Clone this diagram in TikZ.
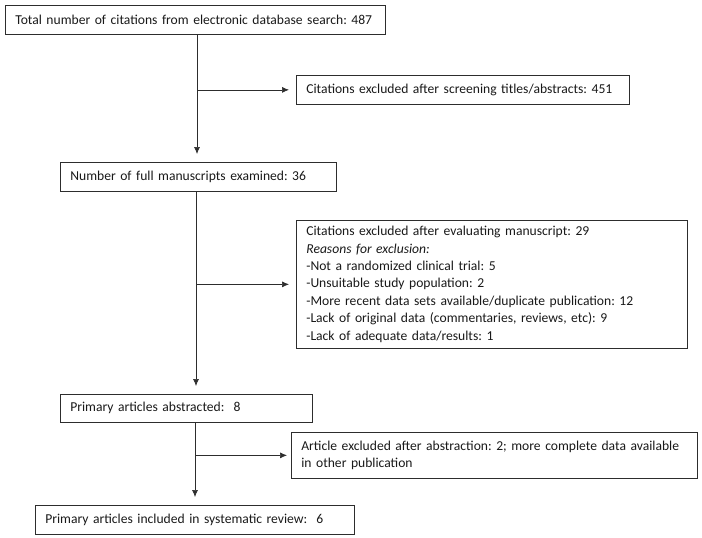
\documentclass[tikz,border=0pt]{standalone}
\usepackage{fontspec}
\setmainfont{Carlito}
\usetikzlibrary{arrows.meta}
\definecolor{linegray}{RGB}{45,45,45}
\frenchspacing

\begin{document}
\begin{tikzpicture}[x=1pt, y=-1pt,
        box/.style={draw=linegray, line width=0.7pt, anchor=north west, align=left,
            inner xsep=10pt, inner ysep=0pt, text=black!90,
            font=\fontsize{13.6}{17.4}\selectfont},
        arr/.style={draw=linegray, line width=0.7pt, -{Latex[length=7pt,width=6pt]}, shorten >=8pt}]
        \useasboundingbox (0,0) rectangle (702,538);

        \node[box, text width=360pt, minimum height=29pt] (total) at (5,5)
            {Total number of citations from electronic database search: 487};
        \node[box, text width=313pt, minimum height=29pt] (screen) at (296,75)
            {Citations excluded after screening titles/abstracts: 451};
        \node[box, text width=256pt, minimum height=29pt] (full) at (60,162)
            {Number of full manuscripts examined: 36};
        \node[box, text width=371pt, minimum height=128pt] (evaluate) at (296,220)
            {Citations excluded after evaluating manuscript: 29\\
             \textit{Reasons for exclusion:}\\
             -Not a randomized clinical trial: 5\\
             -Unsuitable study population: 2\\
             -More recent data sets available/duplicate publication: 12\\
             -Lack of original data (commentaries, reviews, etc): 9\\
             -Lack of adequate data/results: 1};
        \node[box, text width=232pt, minimum height=28pt] (abstracted) at (60,394)
            {Primary articles abstracted:\ \ 8};
        \node[box, text width=386pt, minimum height=46pt] (abstraction) at (291,432)
            {Article excluded after abstraction: 2; more complete data available\\
             in other publication};
        \node[box, text width=299pt, minimum height=29pt] (included) at (35,505)
            {Primary articles included in systematic review:\ \ 6};

        \coordinate (t1) at (197,0);
        \coordinate (t2) at (196,0);
        \coordinate (t3) at (195,0);

        \draw[arr] (total.south -| t1) -- (full.north -| t1);
        \draw[arr, shorten >=7pt] (t1 |- screen.west) -- (screen.west);
        \draw[arr] (full.south -| t2) -- (abstracted.north -| t2);
        \draw[arr, shorten >=7pt] (t2 |- evaluate.west) -- (evaluate.west);
        \draw[arr] (abstracted.south -| t3) -- (included.north -| t3);
        \draw[arr, shorten >=4pt] (t3 |- abstraction.west) -- (abstraction.west);
    \end{tikzpicture}
\end{document}
